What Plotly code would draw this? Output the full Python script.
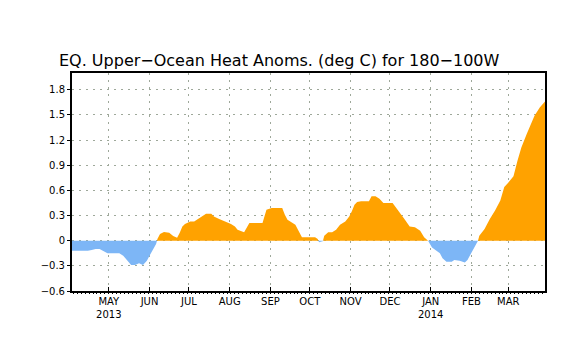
import numpy as np
import pandas as pd
import plotly.graph_objects as go

# ---- data ----
dates = [
    "2013-04-03", "2013-04-09", "2013-04-15", "2013-04-18", "2013-04-21", "2013-04-24",
    "2013-04-27", "2013-04-30", "2013-05-06", "2013-05-09", "2013-05-12", "2013-05-15",
    "2013-05-18", "2013-05-21", "2013-05-24", "2013-05-27", "2013-05-30", "2013-06-01",
    "2013-06-03", "2013-06-06", "2013-06-07", "2013-06-09", "2013-06-12", "2013-06-16",
    "2013-06-19", "2013-06-22", "2013-06-24", "2013-06-26", "2013-06-28", "2013-07-02",
    "2013-07-05", "2013-07-08", "2013-07-11", "2013-07-14", "2013-07-18", "2013-07-20",
    "2013-07-24", "2013-07-27", "2013-07-30", "2013-08-02", "2013-08-05", "2013-08-07",
    "2013-08-12", "2013-08-14", "2013-08-16", "2013-08-26", "2013-08-29", "2013-09-02",
    "2013-09-10", "2013-09-12", "2013-09-14", "2013-09-17", "2013-09-20", "2013-09-22",
    "2013-09-25", "2013-10-05", "2013-10-07", "2013-10-08", "2013-10-11", "2013-10-12",
    "2013-10-15", "2013-10-18", "2013-10-21", "2013-10-24", "2013-10-28", "2013-10-31",
    "2013-11-02", "2013-11-04", "2013-11-06", "2013-11-09", "2013-11-15", "2013-11-17",
    "2013-11-20", "2013-11-23", "2013-11-26", "2013-12-03", "2013-12-06", "2013-12-09",
    "2013-12-12", "2013-12-16", "2013-12-20", "2013-12-24", "2013-12-27", "2013-12-30",
    "2014-01-02", "2014-01-05", "2014-01-08", "2014-01-10", "2014-01-13", "2014-01-17",
    "2014-01-19", "2014-01-23", "2014-01-27", "2014-01-29", "2014-02-01", "2014-02-04",
    "2014-02-06", "2014-02-07", "2014-02-11", "2014-02-15", "2014-02-19", "2014-02-23",
    "2014-02-26", "2014-03-01", "2014-03-05", "2014-03-08", "2014-03-11", "2014-03-15",
    "2014-03-18", "2014-03-21", "2014-03-25", "2014-03-29",
]
anomaly = [
    -0.12, -0.12, -0.12, -0.11, -0.10, -0.10,
    -0.13, -0.15, -0.15, -0.15, -0.18, -0.24,
    -0.29, -0.29, -0.27, -0.29, -0.24, -0.18,
    -0.12, -0.04, 0.02, 0.08, 0.105, 0.095,
    0.055, 0.035, 0.095, 0.17, 0.20, 0.23,
    0.23, 0.26, 0.29, 0.32, 0.32, 0.29,
    0.26, 0.24, 0.22, 0.20, 0.17, 0.13,
    0.10, 0.15, 0.21, 0.21, 0.37, 0.39,
    0.39, 0.31, 0.25, 0.22, 0.19, 0.13,
    0.04, 0.04, 0.02, -0.02, 0.0, 0.06,
    0.10, 0.10, 0.13, 0.19, 0.23, 0.29,
    0.35, 0.43, 0.46, 0.47, 0.47, 0.53,
    0.53, 0.50, 0.45, 0.45, 0.39, 0.33,
    0.26, 0.17, 0.16, 0.12, 0.04, 0.0,
    -0.08, -0.11, -0.15, -0.21, -0.25, -0.25,
    -0.23, -0.24, -0.26, -0.23, -0.15, -0.06,
    0.0, 0.06, 0.14, 0.26, 0.36, 0.48,
    0.64, 0.69, 0.77, 0.95, 1.11, 1.27,
    1.37, 1.49, 1.59, 1.66,
]

month_ticks = ["2013-05-01", "2013-06-01", "2013-07-01", "2013-08-01", "2013-09-01",
               "2013-10-01", "2013-11-01", "2013-12-01", "2014-01-01", "2014-02-01",
               "2014-03-01"]
month_labels = ["MAY<br>2013", "JUN", "JUL", "AUG", "SEP", "OCT", "NOV", "DEC",
                "JAN<br>2014", "FEB", "MAR"]
y_ticks = [-0.6, -0.3, 0, 0.3, 0.6, 0.9, 1.2, 1.5, 1.8]
y_labels = ["\u22120.6", "\u22120.3", "0", "0.3", "0.6", "0.9", "1.2", "1.5", "1.8"]

title_text = "EQ. Upper\u2212Ocean Heat Anoms. (deg C) for 180\u2212100W"

# ---- insert zero crossings so positive / negative fills meet cleanly ----
t = pd.to_datetime(dates).astype("int64").to_numpy().astype(float)
v = np.array(anomaly, dtype=float)
tt, vv = [], []
for i in range(len(v)):
    tt.append(t[i]); vv.append(v[i])
    if i < len(v) - 1 and v[i] * v[i + 1] < 0:
        frac = v[i] / (v[i] - v[i + 1])
        tt.append(t[i] + (t[i + 1] - t[i]) * frac); vv.append(0.0)
xx = pd.to_datetime(np.array(tt).astype("int64"))
vv = np.array(vv)
pos = np.maximum(vv, 0)
neg = np.minimum(vv, 0)

ORANGE = "#FFA200"
BLUE = "#7DB6F6"
GRID = "#9EA89A"

fig = go.Figure()
fig.add_trace(go.Scatter(x=xx, y=pos, mode="lines", line=dict(width=0, color=ORANGE),
                         fill="tozeroy", fillcolor=ORANGE, hoverinfo="skip"))
fig.add_trace(go.Scatter(x=xx, y=neg, mode="lines", line=dict(width=0, color=BLUE),
                         fill="tozeroy", fillcolor=BLUE, hoverinfo="skip"))

fig.update_layout(
    width=578, height=337,
    margin=dict(l=72, r=33, t=73, b=46),
    paper_bgcolor="white", plot_bgcolor="white",
    showlegend=False,
    font=dict(family="DejaVu Sans", size=10, color="black"),
    title=dict(text=title_text, x=0.483, xref="container", xanchor="center",
               y=0.822, yref="container", yanchor="middle",
               font=dict(family="DejaVu Sans", size=16, color="black")),
)
fig.update_xaxes(
    range=["2013-04-03", "2014-03-29"],
    tickvals=month_ticks, ticktext=month_labels,
    ticks="inside", ticklen=4, tickcolor="black", tickwidth=1,
    showgrid=True, gridcolor=GRID, griddash="2px,5px", gridwidth=1,
    showline=True, linecolor="black", linewidth=2, mirror=True,
    zeroline=False,
    minor=dict(ticks="outside", ticklen=1, tickcolor="black",
               dtick=3 * 86400000, tick0="2013-04-01", showgrid=False),
    tickfont=dict(size=10),
)
fig.update_yaxes(
    range=[-0.6, 2.0],
    tickvals=y_ticks, ticktext=y_labels,
    ticks="outside", ticklen=3, tickcolor="black",
    showgrid=True, gridcolor=GRID, griddash="2px,5px", gridwidth=1,
    showline=True, linecolor="black", linewidth=2, mirror=True,
    zeroline=False,
    tickfont=dict(size=10),
)

fig.write_html("out.html")
